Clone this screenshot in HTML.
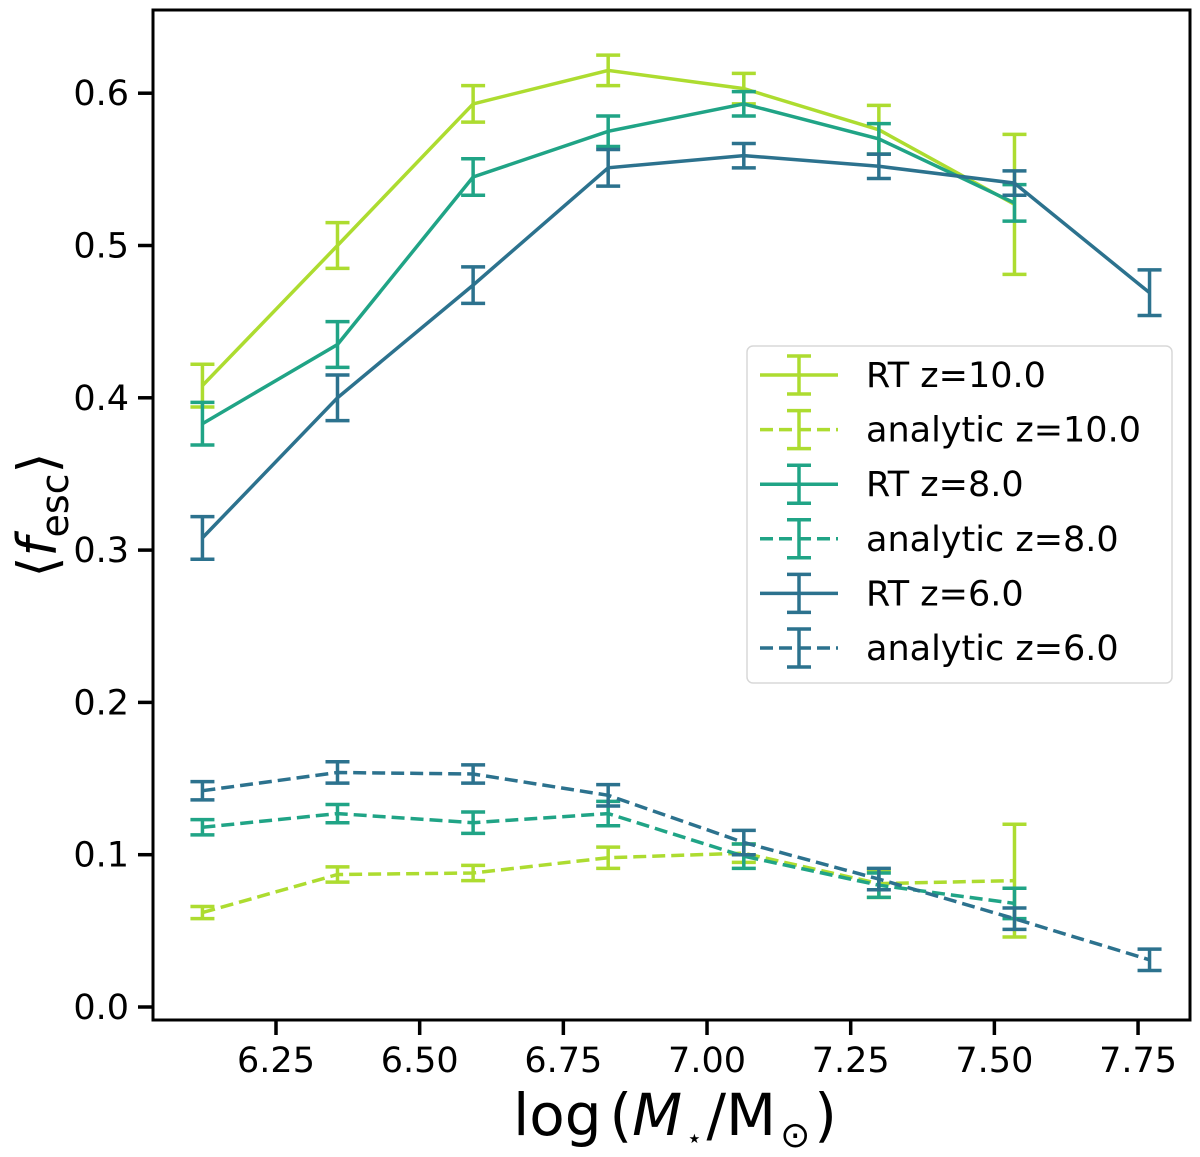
<!DOCTYPE html>
<html><head><meta charset="utf-8"><style>
body{margin:0;background:#fff}
svg{font-family:"DejaVu Sans","Liberation Sans",sans-serif}
</style></head><body>
<svg id="chart" width="1200" height="1152" viewBox="0 0 1200 1152" xmlns="http://www.w3.org/2000/svg">
<g id="plot"></g>
<g id="axes"></g>
<g id="legend"></g>
</svg>
<script>
const xs = [6.122, 6.357, 6.593, 6.828, 7.064, 7.299, 7.535, 7.770];
const rt10 = [0.408, 0.500, 0.593, 0.615, 0.603, 0.576, 0.527];
const rt10err = [0.014, 0.015, 0.012, 0.010, 0.010, 0.016, 0.046];
const rt8 = [0.383, 0.435, 0.545, 0.575, 0.593, 0.570, 0.528];
const rt8err = [0.014, 0.015, 0.012, 0.010, 0.008, 0.010, 0.012];
const rt6 = [0.308, 0.400, 0.474, 0.551, 0.559, 0.552, 0.541, 0.469];
const rt6err = [0.014, 0.015, 0.012, 0.012, 0.008, 0.008, 0.008, 0.015];
const an10 = [0.062, 0.087, 0.088, 0.098, 0.101, 0.081, 0.083];
const an10err = [0.004, 0.005, 0.005, 0.007, 0.006, 0.009, 0.037];
const an8 = [0.118, 0.127, 0.121, 0.127, 0.099, 0.080, 0.068];
const an8err = [0.005, 0.006, 0.007, 0.008, 0.008, 0.008, 0.010];
const an6 = [0.142, 0.154, 0.153, 0.139, 0.108, 0.084, 0.058, 0.031];
const an6err = [0.006, 0.007, 0.006, 0.007, 0.008, 0.007, 0.007, 0.007];
const xTicks = [6.25, 6.50, 6.75, 7.00, 7.25, 7.50, 7.75];
const xTickLabels = ["6.25","6.50","6.75","7.00","7.25","7.50","7.75"];
const yTicks = [0.0, 0.1, 0.2, 0.3, 0.4, 0.5, 0.6];
const yTickLabels = ["0.0","0.1","0.2","0.3","0.4","0.5","0.6"];
const legendLabels = ["RT z=10.0","analytic z=10.0","RT z=8.0","analytic z=8.0","RT z=6.0","analytic z=6.0"];

const NS="http://www.w3.org/2000/svg";
const L=153,R=1190,T=10,B=1020;
function X(v){return 276+(v-6.25)*574.7;}
function Y(v){return 1007-v*1523;}
function mk(tag,attrs,parent){const e=document.createElementNS(NS,tag);for(const k in attrs)e.setAttribute(k,attrs[k]);parent.appendChild(e);return e;}
const plot=document.getElementById('plot'),axes=document.getElementById('axes'),leg=document.getElementById('legend');
const C10="#addc30",C8="#20a486",C6="#2c728e";
const series=[
 {v:rt10,e:rt10err,c:C10,d:null,n:'rt-z10'},
 {v:an10,e:an10err,c:C10,d:"13,6",n:'analytic-z10'},
 {v:rt8,e:rt8err,c:C8,d:null,n:'rt-z8'},
 {v:an8,e:an8err,c:C8,d:"13,6",n:'analytic-z8'},
 {v:rt6,e:rt6err,c:C6,d:null,n:'rt-z6'},
 {v:an6,e:an6err,c:C6,d:"13,6",n:'analytic-z6'}];
series.forEach(s=>{
 const g=mk('g',{},plot);
 
 
 const pts=s.v.map((v,i)=>X(xs[i]).toFixed(1)+','+Y(v).toFixed(1)).join(' ');
 const pl=mk('polyline',{points:pts,fill:'none',stroke:s.c,'stroke-width':3.5},g);
 if(s.d)pl.setAttribute('stroke-dasharray',s.d);
 
 
 s.v.forEach((v,i)=>{
  const x=X(xs[i]),y1=Y(v+s.e[i]),y2=Y(v-s.e[i]);
  const eb=mk('g',{stroke:s.c,'stroke-width':3.5},g);
  
  
  mk('line',{x1:x,x2:x,y1:y1,y2:y2},eb);
  mk('line',{x1:x-12,x2:x+12,y1:y1,y2:y1},eb);
  mk('line',{x1:x-12,x2:x+12,y1:y2,y2:y2},eb);
 });
});
const fr=mk('rect',{x:L,y:T,width:R-L,height:B-T,fill:'none',stroke:'#000','stroke-width':3},axes);


xTicks.forEach((t,i)=>{
 mk('line',{x1:X(t),x2:X(t),y1:B,y2:B+15,stroke:'#000','stroke-width':3.5},axes);
 const tx=mk('text',{x:X(t),y:B+52,'text-anchor':'middle','font-size':35},axes);
 tx.textContent=xTickLabels[i];
 
 
});
yTicks.forEach((t,i)=>{
 mk('line',{x1:L,x2:L-15,y1:Y(t),y2:Y(t),stroke:'#000','stroke-width':3.5},axes);
 const tx=mk('text',{x:L-24,y:Y(t)+12,'text-anchor':'end','font-size':35},axes);
 tx.textContent=yTickLabels[i];
 
 
});
const xl=mk('text',{x:675,y:1135,'text-anchor':'middle','font-size':58},axes);
xl.innerHTML='log<tspan dx="8">(</tspan><tspan font-style="italic">M</tspan><tspan font-size="26" dy="12" dx="4">⋆</tspan><tspan dy="-12" dx="4">/M</tspan><tspan font-size="36" dy="12" dx="4">⊙</tspan><tspan dy="-12" dx="4">)</tspan>';


const yl=mk('text',{x:0,y:0,'text-anchor':'middle','font-size':54,transform:'translate(56,515) rotate(-90)'},axes);
yl.innerHTML='⟨<tspan font-style="italic">f</tspan><tspan font-size="38" dy="12">esc</tspan><tspan dy="-12">⟩</tspan>';


const lb=mk('rect',{x:747,y:346,width:425,height:337,rx:6,fill:'#fff','fill-opacity':0.85,stroke:'#d8d8d8','stroke-width':1.5},leg);


legendLabels.forEach((lab,i)=>{
 const s=series[i],y=375+i*54.6;
 const g=mk('g',{},leg);
 
 
 const ln=mk('line',{x1:760,x2:838,y1:y,y2:y,stroke:s.c,'stroke-width':3.5},g);
 if(s.d)ln.setAttribute('stroke-dasharray',s.d);
 mk('line',{x1:799,x2:799,y1:y-19,y2:y+19,stroke:s.c,'stroke-width':3.5},g);
 mk('line',{x1:787,x2:811,y1:y-19,y2:y-19,stroke:s.c,'stroke-width':3.5},g);
 mk('line',{x1:787,x2:811,y1:y+19,y2:y+19,stroke:s.c,'stroke-width':3.5},g);
 const tx=mk('text',{x:866,y:y+12,'font-size':35,textLength:0},g);
 tx.removeAttribute('textLength');
 tx.textContent=lab;
});
</script>
</body></html>
